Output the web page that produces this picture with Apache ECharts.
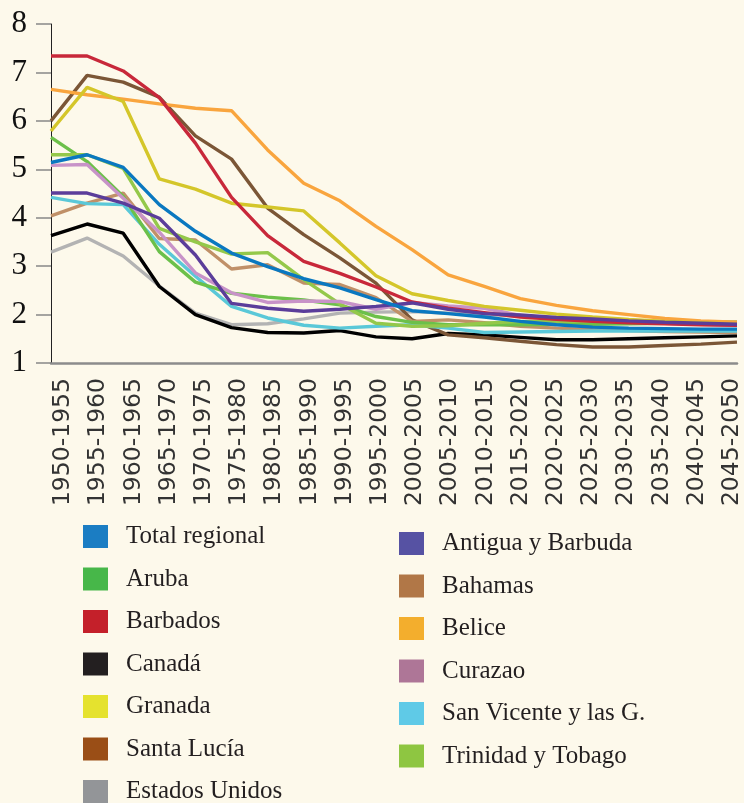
<!DOCTYPE html>
<html>
<head>
<meta charset="utf-8">
<script src="https://cdn.jsdelivr.net/npm/echarts@6/dist/echarts.min.js"></script>
<style>
  html, body { margin: 0; padding: 0; background: #fdf9eb; }
  #chart { width: 744px; height: 803px; }
</style>
</head>
<body>
<div id="chart"></div>
<script>
// periodos quinquenales
var periods = ['1950-1955', '1955-1960', '1960-1965', '1965-1970', '1970-1975', '1975-1980',
  '1980-1985', '1985-1990', '1990-1995', '1995-2000', '2000-2005', '2005-2010', '2010-2015',
  '2015-2020', '2020-2025', '2025-2030', '2030-2035', '2035-2040', '2040-2045', '2045-2050'];

var totalRegional = [5.14, 5.30, 5.04, 4.27, 3.72, 3.27, 2.99, 2.74, 2.55, 2.31, 2.08, 2.02, 1.95, 1.86, 1.79, 1.74, 1.72, 1.71, 1.70, 1.70];
var aruba = [5.66, 5.16, 4.44, 3.30, 2.67, 2.44, 2.36, 2.30, 2.20, 1.96, 1.84, 1.79, 1.79, 1.79, 1.80, 1.80, 1.81, 1.82, 1.82, 1.82];
var barbados = [7.34, 7.34, 7.03, 6.48, 5.54, 4.42, 3.63, 3.10, 2.85, 2.57, 2.26, 2.13, 2.04, 1.95, 1.90, 1.86, 1.83, 1.81, 1.79, 1.78];
var canada = [3.63, 3.87, 3.68, 2.58, 2.00, 1.73, 1.63, 1.62, 1.67, 1.54, 1.50, 1.61, 1.58, 1.53, 1.48, 1.48, 1.50, 1.52, 1.54, 1.56];
var granada = [5.79, 6.69, 6.40, 4.80, 4.59, 4.30, 4.22, 4.14, 3.48, 2.80, 2.43, 2.29, 2.17, 2.09, 2.01, 1.95, 1.90, 1.86, 1.83, 1.80];
var santaLucia = [6.00, 6.94, 6.80, 6.49, 5.69, 5.21, 4.20, 3.65, 3.17, 2.65, 1.89, 1.58, 1.52, 1.45, 1.38, 1.33, 1.33, 1.36, 1.39, 1.43];
var estadosUnidos = [3.29, 3.58, 3.21, 2.59, 2.03, 1.79, 1.81, 1.91, 2.03, 2.05, 2.06, 2.03, 2.00, 1.97, 1.93, 1.90, 1.88, 1.86, 1.85, 1.85];
var antigua = [4.51, 4.51, 4.30, 3.99, 3.23, 2.23, 2.13, 2.07, 2.11, 2.17, 2.24, 2.11, 2.02, 1.99, 1.94, 1.91, 1.87, 1.84, 1.82, 1.80];
var bahamas = [4.04, 4.30, 4.51, 3.57, 3.54, 2.94, 3.03, 2.65, 2.62, 2.35, 1.86, 1.89, 1.83, 1.76, 1.72, 1.69, 1.67, 1.65, 1.64, 1.63];
var belice = [6.65, 6.54, 6.45, 6.35, 6.26, 6.21, 5.40, 4.71, 4.35, 3.82, 3.34, 2.82, 2.58, 2.33, 2.19, 2.08, 2.00, 1.92, 1.87, 1.84];
var curazao = [5.08, 5.10, 4.40, 3.70, 2.86, 2.45, 2.25, 2.28, 2.27, 2.11, 2.25, 2.18, 2.13, 1.98, 1.92, 1.88, 1.85, 1.82, 1.80, 1.78];
var sanVicente = [4.42, 4.29, 4.27, 3.45, 2.79, 2.17, 1.93, 1.78, 1.72, 1.76, 1.79, 1.72, 1.63, 1.64, 1.65, 1.66, 1.66, 1.66, 1.66, 1.66];
var trinidad = [5.30, 5.30, 5.02, 3.78, 3.50, 3.25, 3.28, 2.72, 2.22, 1.82, 1.76, 1.77, 1.82, 1.86, 1.86, 1.86, 1.85, 1.85, 1.84, 1.84];

var yTicks = [1, 2, 3, 4, 5, 6, 7, 8];

// name, data, legend color, line color
var paises = [
  ['Estados Unidos', estadosUnidos, '#939598', '#b3b3b3'],
  ['Canadá', canada, '#231f20', '#000000'],
  ['Santa Lucía', santaLucia, '#9a4e16', '#7b5636'],
  ['Bahamas', bahamas, '#b17747', '#c09068'],
  ['San Vicente y las G.', sanVicente, '#5fcae7', '#5ac8d8'],
  ['Aruba', aruba, '#47b749', '#6cc04a'],
  ['Trinidad y Tobago', trinidad, '#8ec641', '#94c84a'],
  ['Curazao', curazao, '#ae7697', '#c893c8'],
  ['Belice', belice, '#f3ae2d', '#f9a53e'],
  ['Granada', granada, '#e5e22e', '#d4c62a'],
  ['Barbados', barbados, '#c4202a', '#c8283a'],
  ['Antigua y Barbuda', antigua, '#5652a3', '#5b3d9a'],
  ['Total regional', totalRegional, '#1b7dc3', '#0a78c0']
];

var legendIzq = ['Total regional', 'Aruba', 'Barbados', 'Canadá', 'Granada', 'Santa Lucía', 'Estados Unidos'];
var legendDer = ['Antigua y Barbuda', 'Bahamas', 'Belice', 'Curazao', 'San Vicente y las G.', 'Trinidad y Tobago'];

var chart = echarts.init(document.getElementById('chart'));

var series = paises.map(function (p) {
  return {
    name: p[0],
    type: 'line',
    data: p[1],
    symbol: 'none',
    xAxisIndex: 0,
    yAxisIndex: 0,
    itemStyle: { color: p[2] },
    lineStyle: { color: p[3], width: 3.4 }
  };
});

var legendBase = {
  orient: 'vertical',
  icon: 'rect',
  itemWidth: 25,
  itemHeight: 23,
  itemGap: 17.5,
  padding: 0,
  height: 300,
  selectedMode: false,
  textStyle: {
    fontFamily: 'Liberation Serif',
    fontSize: 25,
    color: '#231f20',
    padding: [0, 0, 0, 13]
  }
};

var option = {
  backgroundColor: '#fdf9eb',
  animation: false,
  grid: [
    { left: 51, right: 7, top: 24, bottom: 440 },
    // rejilla auxiliar solo para las etiquetas del eje x
    { left: 63, right: 6, top: 24, bottom: 440 }
  ],
  legend: [
    Object.assign({}, legendBase, { data: legendIzq, left: 83, top: 524 }),
    Object.assign({}, legendBase, { data: legendDer, left: 399, top: 531 })
  ],
  xAxis: [{
    type: 'category',
    gridIndex: 0,
    data: periods,
    boundaryGap: false,
    axisLine: { lineStyle: { color: '#8c8c8c', width: 2.5 } },
    axisTick: { show: false },
    axisLabel: { show: false },
    splitLine: { show: false }
  }, {
    type: 'category',
    gridIndex: 1,
    data: periods,
    boundaryGap: false,
    axisLine: { show: false },
    axisTick: { show: false },
    axisLabel: {
      rotate: 90,
      margin: 15,
      fontFamily: 'DejaVu Sans',
      fontSize: 23.5,
      color: '#333',
      interval: 0
    },
    splitLine: { show: false }
  }],
  yAxis: [{
    type: 'value',
    gridIndex: 0,
    min: yTicks[0],
    max: yTicks[yTicks.length - 1],
    interval: 1,
    axisLine: { show: true, lineStyle: { color: '#222', width: 1 } },
    axisTick: { show: true, length: 15, lineStyle: { color: '#888', width: 1.5 } },
    axisLabel: {
      margin: 24,
      fontFamily: 'Liberation Serif',
      fontSize: 31,
      color: '#111'
    },
    splitLine: { show: false }
  }, {
    type: 'value',
    gridIndex: 1,
    show: false
  }],
  series: series
};

chart.setOption(option);
</script>
</body>
</html>
